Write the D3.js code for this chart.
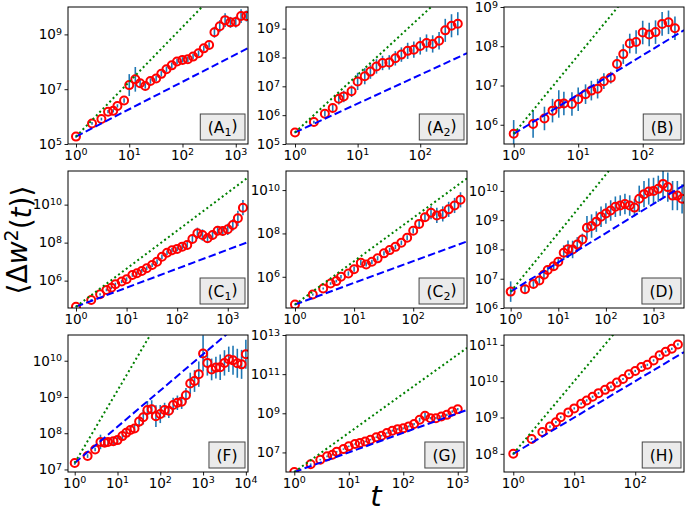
<!DOCTYPE html>
<html><head><meta charset="utf-8">
<script src="https://cdn.jsdelivr.net/npm/d3@7"></script>
<style>body{margin:0;background:#fff} svg{display:block;font-family:"DejaVu Sans",sans-serif}</style>
</head><body><svg id="c" width="685" height="512"></svg>
<script>
// time points (shared by all panels; each panel uses a prefix)
const T = [1,2,3,4,5,6,8,10,13,16,20,25,32,40,50,63,79,100,126,158,200,251,316,398,501,631,794,1000,1259,1585,1995,2512,3162,3981,5012,6310,7943,10000];

// panel names and labels
const panelNames = ["A1","A2","B","C1","C2","D","F","G","H"];
const labelMain  = ["(A","(A","(B","(C","(C","(D","(F","(G","(H"];
const labelSub   = ["1","2","","1","2","","","",""];

// series values: log10 <Δw²(t)>, and error-bar half length (decades)
const logY_A1 = [5.27,5.75,5.91,6.18,6.21,6.39,6.59,7.15,7.36,7.22,7.12,7.30,7.39,7.56,7.73,7.87,8.01,8.07,8.09,8.19,8.31,8.49,8.61,9.08,9.30,9.52,9.44,9.45,9.67,9.67];
const err_A1  = [0.04,0.05,0.05,0.06,0.06,0.06,0.08,0.4,0.45,0.15,0.1,0.1,0.1,0.1,0.1,0.1,0.1,0.1,0.1,0.1,0.1,0.1,0.1,0.2,0.22,0.25,0.2,0.2,0.25,0.2];
const logY_A2 = [5.40,5.76,6.05,6.25,6.57,6.65,6.83,7.17,7.35,7.51,7.69,7.81,7.83,7.97,8.10,8.23,8.27,8.40,8.50,8.47,8.58,8.94,9.10,9.17];
const err_A2  = [0.03,0.05,0.1,0.12,0.2,0.2,0.2,0.3,0.28,0.25,0.25,0.25,0.25,0.25,0.25,0.28,0.28,0.3,0.3,0.3,0.3,0.4,0.4,0.4];
const logY_B  = [5.77,6.02,6.16,6.36,6.53,6.54,6.53,6.65,6.78,6.87,6.92,7.11,7.20,7.55,7.80,8.07,8.11,8.35,8.30,8.36,8.57,8.61,8.46];
const err_B   = [0.35,0.35,0.3,0.3,0.35,0.3,0.3,0.3,0.25,0.25,0.25,0.2,0.15,0.2,0.25,0.25,0.3,0.3,0.3,0.3,0.3,0.3,0.3];
const logY_C1 = [4.63,4.98,5.28,5.51,5.63,5.81,5.95,6.07,6.30,6.39,6.51,6.65,6.82,7.00,7.26,7.47,7.60,7.67,7.79,7.88,8.19,8.49,8.40,8.23,8.40,8.63,8.61,8.70,8.93,9.28,9.84];
const err_C1  = [0.03,0.05,0.06,0.07,0.07,0.08,0.08,0.1,0.1,0.1,0.1,0.1,0.1,0.12,0.12,0.12,0.12,0.12,0.15,0.15,0.2,0.3,0.3,0.25,0.25,0.25,0.25,0.3,0.3,0.4,0.4];
const logY_C2 = [4.72,5.18,5.46,5.69,5.80,6.00,6.15,6.35,6.65,6.57,6.69,6.85,7.08,7.23,7.38,7.57,7.80,8.12,8.44,8.75,8.95,8.83,8.90,9.11,9.29,9.55];
const err_C2  = [0.03,0.05,0.05,0.06,0.06,0.08,0.1,0.12,0.12,0.1,0.1,0.1,0.1,0.1,0.1,0.1,0.12,0.12,0.15,0.2,0.3,0.35,0.35,0.35,0.35,0.35];
const logY_D  = [6.56,6.64,6.82,6.94,7.14,7.30,7.43,7.58,7.89,8.01,8.00,8.17,8.34,8.74,8.80,8.95,9.12,9.23,9.33,9.46,9.50,9.55,9.50,9.43,9.73,9.89,9.98,10.00,10.07,10.24,10.13,9.84,9.84,9.73];
const err_D   = [0.35,0.15,0.1,0.12,0.15,0.15,0.15,0.15,0.25,0.3,0.3,0.25,0.2,0.4,0.4,0.35,0.35,0.35,0.35,0.35,0.35,0.35,0.35,0.3,0.45,0.45,0.45,0.45,0.45,0.45,0.5,0.5,0.5,0.5];
const logY_F  = [7.18,7.37,7.55,7.76,7.74,7.76,7.78,7.81,7.92,8.01,8.09,8.13,8.32,8.44,8.64,8.66,8.47,8.53,8.64,8.62,8.78,8.84,8.87,9.05,9.37,9.44,9.63,10.20,9.94,9.76,9.81,9.82,9.94,10.04,10.01,9.93,9.90,10.18];
const err_F   = [0.05,0.05,0.05,0.2,0.1,0.1,0.1,0.1,0.1,0.1,0.1,0.12,0.15,0.2,0.25,0.25,0.3,0.25,0.2,0.2,0.2,0.2,0.2,0.2,0.3,0.3,0.35,0.5,0.35,0.3,0.3,0.35,0.35,0.35,0.4,0.4,0.4,0.4];
const logY_G  = [6.0,6.40,6.63,6.80,6.88,7.03,7.17,7.31,7.43,7.48,7.56,7.65,7.78,7.85,7.99,8.11,8.19,8.23,8.33,8.45,8.67,8.87,8.75,8.75,8.84,8.92,9.09,9.21];
const err_G   = [0.03,0.04,0.04,0.04,0.04,0.04,0.04,0.04,0.04,0.04,0.04,0.04,0.04,0.04,0.04,0.05,0.05,0.05,0.05,0.06,0.1,0.15,0.06,0.06,0.06,0.06,0.06,0.06];
const logY_H  = [8.0,8.41,8.60,8.75,8.87,9.01,9.14,9.25,9.38,9.47,9.57,9.67,9.76,9.85,9.96,10.06,10.19,10.28,10.39,10.45,10.57,10.71,10.81,10.89,11.01];
const err_H   = [0.03,0.03,0.03,0.03,0.03,0.03,0.03,0.03,0.03,0.03,0.03,0.03,0.03,0.03,0.03,0.03,0.03,0.03,0.03,0.03,0.03,0.03,0.03,0.03,0.03];

const seriesY   = [logY_A1,logY_A2,logY_B,logY_C1,logY_C2,logY_D,logY_F,logY_G,logY_H];
const seriesErr = [err_A1,err_A2,err_B,err_C1,err_C2,err_D,err_F,err_G,err_H];

// reference power laws: dashed ~ t^1, dotted ~ t^2
const slopeDashed = 1, slopeDotted = 2;

// axis ranges (log10 exponents) and tick exponents
const xDom = [[-0.15,3.23],[-0.144,2.747],[-0.15,2.64],[-0.158,3.40],[-0.152,2.91],[-0.14,3.64],[-0.157,4.05],[-0.152,3.17],[-0.152,2.80]];
const yDom = [[5,10.0],[5,9.75],[5.51,9],[4.56,11.77],[4.56,10.88],[6,10.68],[6.93,10.71],[6,13],[7.5,11.27]];
const xTickExp = [[0,1,2,3],[0,1,2],[0,1,2],[0,1,2,3],[0,1,2],[0,1,2,3],[0,1,2,3,4],[0,1,2,3],[0,1,2]];
const yTickExp = [[5,7,9],[5,6,7,8,9],[6,7,8,9],[6,8,10],[6,8,10],[6,7,8,9,10],[7,8,9,10],[7,9,11,13],[8,9,10,11]];

// layout
const cols = [[68,248],[286,467],[504,684]];
const rows = [[7,144],[171,308],[335,472]];

const svg = d3.select("#c");
const defs = svg.append("defs");

function powText(sel, k){
  sel.append("tspan").text("10");
  sel.append("tspan").attr("dy","-0.45em").attr("font-size","9.5px").text(k);
}

panelNames.forEach((name,i)=>{
  const [x0,x1] = cols[i%3], [y0,y1] = rows[Math.floor(i/3)];
  const xs = d3.scaleLog().domain([10**xDom[i][0],10**xDom[i][1]]).range([x0,x1]);
  const ys = d3.scaleLog().domain([10**yDom[i][0],10**yDom[i][1]]).range([y1,y0]);
  const g = svg.append("g");
  defs.append("clipPath").attr("id","clip"+i).append("rect")
      .attr("x",x0).attr("y",y0).attr("width",x1-x0).attr("height",y1-y0);
  const pg = g.append("g").attr("clip-path",`url(#clip${i})`);

  const vals = seriesY[i], errs = seriesErr[i];
  const pts = vals.map((v,j)=>({t:T[j], y:10**v, e:errs[j]}));
  const yStart = pts[0].y, tEnd = 10**xDom[i][1];
  const line = d3.line().x(d=>xs(d[0])).y(d=>ys(d[1]));

  // error bars
  pg.selectAll("line.err").data(pts).join("line").attr("class","err")
    .attr("x1",d=>xs(d.t)).attr("x2",d=>xs(d.t))
    .attr("y1",d=>ys(d.y*10**(-d.e))).attr("y2",d=>ys(d.y*10**(d.e)))
    .attr("stroke","#1f77b4").attr("stroke-width",1.6);
  // markers
  pg.selectAll("circle").data(pts).join("circle")
    .attr("cx",d=>xs(d.t)).attr("cy",d=>ys(d.y)).attr("r",4)
    .attr("fill","none").attr("stroke","#ff0000").attr("stroke-width",2);
  // reference lines
  pg.append("path").attr("d",line([[1,yStart],[tEnd,yStart*tEnd**slopeDashed]]))
    .attr("fill","none").attr("stroke","#0000ff").attr("stroke-width",2).attr("stroke-dasharray","7.5,3.4");
  pg.append("path").attr("d",line([[1,yStart],[tEnd,yStart*tEnd**slopeDotted]]))
    .attr("fill","none").attr("stroke","#008000").attr("stroke-width",2).attr("stroke-dasharray","2,2.8");

  // ticks
  const xt = xTickExp[i].map(k=>10**k), yt = yTickExp[i].map(k=>10**k);
  g.append("g").attr("transform",`translate(0,${y1})`)
   .call(d3.axisBottom(xs).tickValues(xt).tickFormat("").tickSizeOuter(0).tickSizeInner(3.5))
   .call(a=>{a.select(".domain").remove(); a.selectAll("line").attr("stroke","#000").attr("stroke-width",0.9);});
  g.append("g").attr("transform",`translate(${x0},0)`)
   .call(d3.axisLeft(ys).tickValues(yt).tickFormat("").tickSizeOuter(0).tickSizeInner(3.5))
   .call(a=>{a.select(".domain").remove(); a.selectAll("line").attr("stroke","#000").attr("stroke-width",0.9);});
  // tick labels
  xTickExp[i].forEach(k=>{
    const t = g.append("text").attr("x",xs(10**k)).attr("y",y1+15.5)
      .attr("text-anchor","middle").attr("font-size","13.5px").attr("fill","#000");
    powText(t,k);
  });
  yTickExp[i].forEach(k=>{
    const yy = Math.max(ys(10**k)+4.8, 11);
    const t = g.append("text").attr("x",x0-6).attr("y",yy)
      .attr("text-anchor","end").attr("font-size","13.5px").attr("fill","#000");
    powText(t,k);
  });
  // frame
  g.append("rect").attr("x",x0).attr("y",y0).attr("width",x1-x0).attr("height",y1-y0)
   .attr("fill","none").attr("stroke","#000").attr("stroke-width",1);

  // panel label box
  const lg = g.append("g");
  const lt = lg.append("text").attr("font-size","15.5px").attr("fill","#000")
      .attr("text-anchor","end").attr("x",x1-10.5).attr("y",y1-11.5);
  lt.append("tspan").text(labelMain[i]);
  if(labelSub[i]){
    lt.append("tspan").attr("dy","0.3em").attr("font-size","11px").text(labelSub[i]);
    lt.append("tspan").attr("dy","-0.3em").text(")");
  } else lt.append("tspan").text(")");
  const bb = lt.node().getBBox();
  lg.insert("rect","text").attr("x",bb.x-7.5).attr("y",y1-30).attr("width",bb.width+15).attr("height",26)
    .attr("fill","#ebebeb").attr("stroke","#444").attr("stroke-width",1);
});

// axis titles
const yl = svg.append("text").attr("transform","translate(27,240) rotate(-90)")
  .attr("text-anchor","middle").attr("font-size","28px").attr("fill","#000");
yl.append("tspan").text("⟨Δ");
yl.append("tspan").attr("font-style","italic").text("w");
yl.append("tspan").attr("dy","-0.45em").attr("font-size","19px").text("2");
yl.append("tspan").attr("dy","0.45em").text("(");
yl.append("tspan").attr("font-style","italic").text("t");
yl.append("tspan").text(")⟩");

svg.append("text").attr("x",376).attr("y",506).attr("text-anchor","middle")
  .attr("font-size","29px").attr("font-style","italic").attr("fill","#000").text("t");
</script></body></html>
